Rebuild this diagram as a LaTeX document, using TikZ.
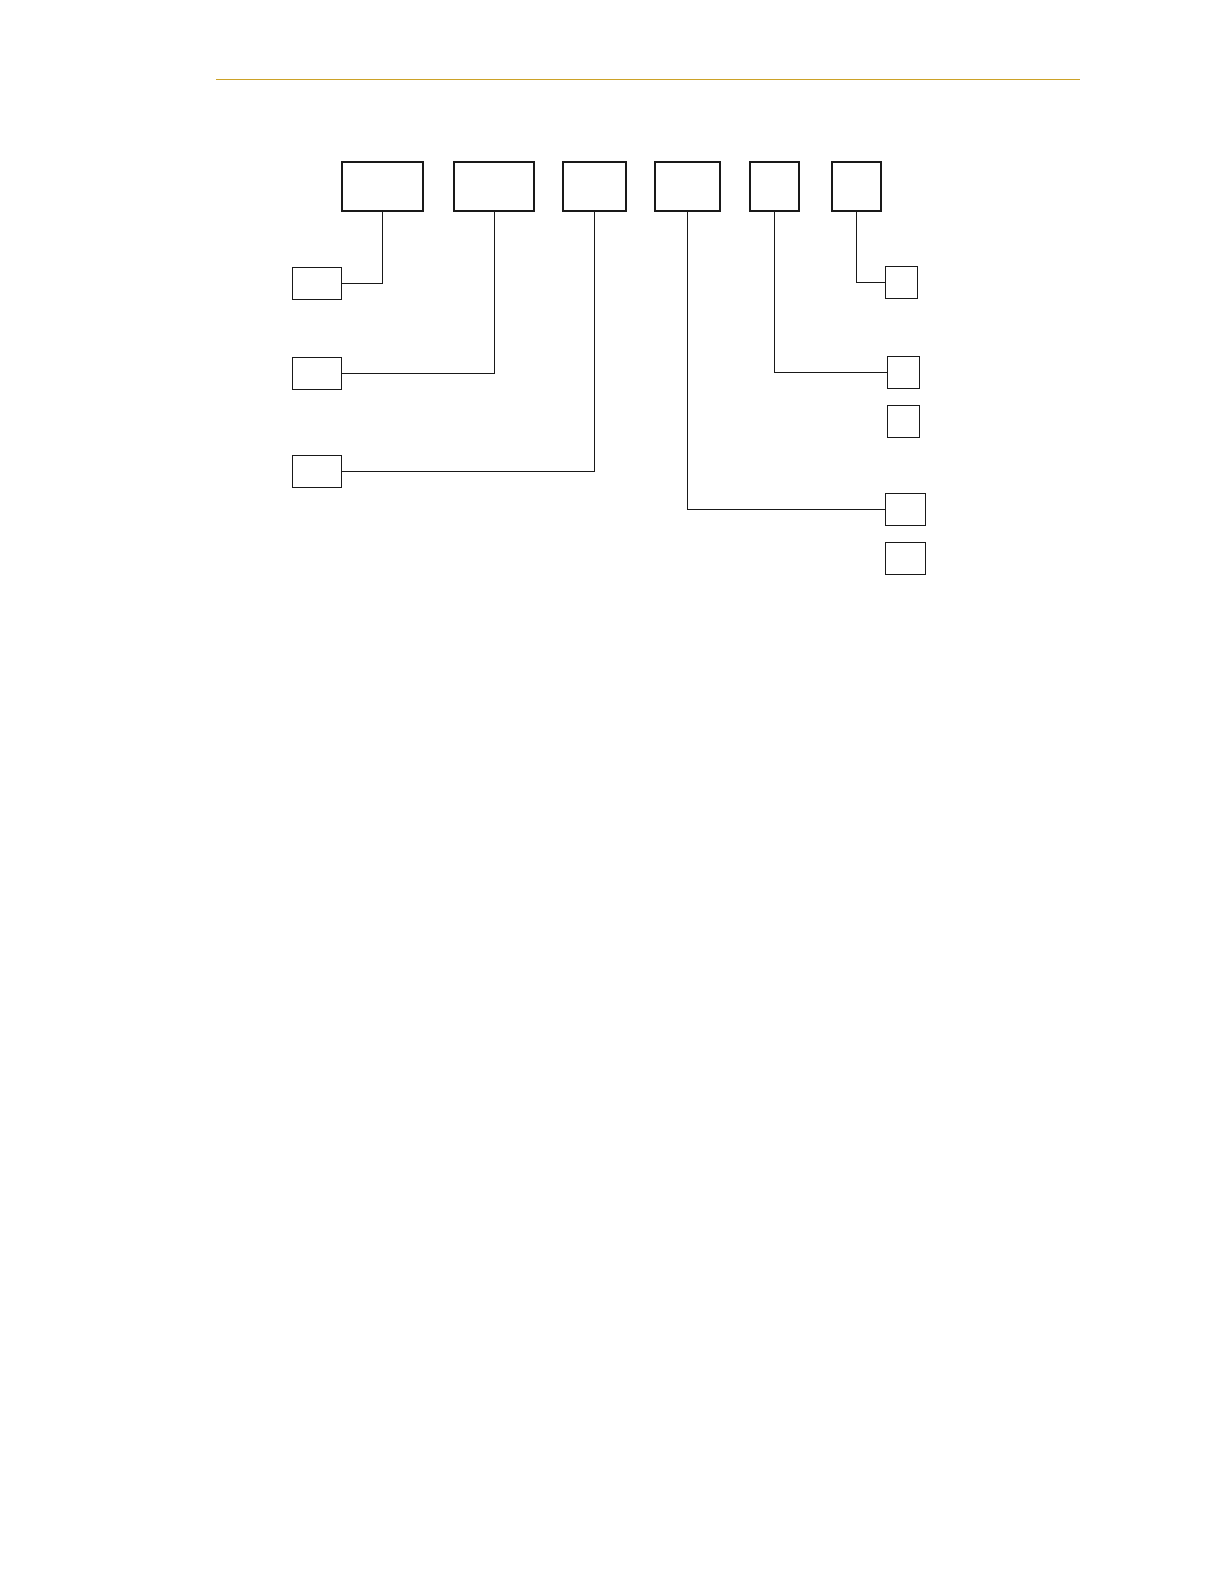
\documentclass[tikz,border=0pt]{standalone}
\usepackage{tikz}
\usetikzlibrary{positioning}
\definecolor{rulegold}{RGB}{204,162,40}
\tikzset{code/.style={rectangle,draw=black!90,line width=0.9bp,inner sep=0pt,minimum height=24.5bp}}
\tikzset{field/.style={rectangle,draw=black!90,line width=0.45bp,inner sep=0pt,minimum width=16bp,minimum height=16bp}}
\tikzset{link/.style={draw=black!90,line width=0.45bp}}
\begin{document}
\begin{tikzpicture}[x=0.5bp,y=-0.5bp]
  \useasboundingbox (0,0) rectangle (1224,1584);
  \coordinate (ra) at (216,79.5);
  \coordinate (rb) at (1080,79.5);
  \draw[rulegold, line width=0.5bp] (ra) -- (rb);
  % top row
  \node[code, minimum width=40.5bp] (C1) at (382.5,186.5) {};
  \node[code, minimum width=40.3bp] (C2) at (494,186.5) {};
  \node[code, minimum width=31.8bp] (C3) at (594.5,186.5) {};
  \node[code, minimum width=32.6bp] (C4) at (687.5,186.5) {};
  \node[code, minimum width=24.5bp] (C5) at (774.5,186.5) {};
  \node[code, minimum width=24.5bp] (C6) at (856.5,186.5) {};
  % left fields
  \node[field, minimum width=24.7bp] (L1) at (317,283) {};
  \node[field, minimum width=24.7bp] (L2) at (317,373.3) {};
  \node[field, minimum width=24.7bp] (L3) at (317,471.5) {};
  % right fields
  \node[field] (R1) at (901.3,282.3) {};
  \node[field] (R2) at (903.3,372.3) {};
  \node[field] (R3) at (903.3,421.3) {};
  \node[field, minimum width=20bp] (R4) at (905.3,509.3) {};
  \node[field, minimum width=20bp] (R5) at (905.3,558.3) {};
  \draw[link] (C1.south) |- (L1.east);
  \draw[link] (C2.south) |- (L2.east);
  \draw[link] (C3.south) |- (L3.east);
  \draw[link] (C4.south) |- (R4.west);
  \draw[link] (C5.south) |- (R2.west);
  \draw[link] (C6.south) |- (R1.west);
\end{tikzpicture}
\end{document}
